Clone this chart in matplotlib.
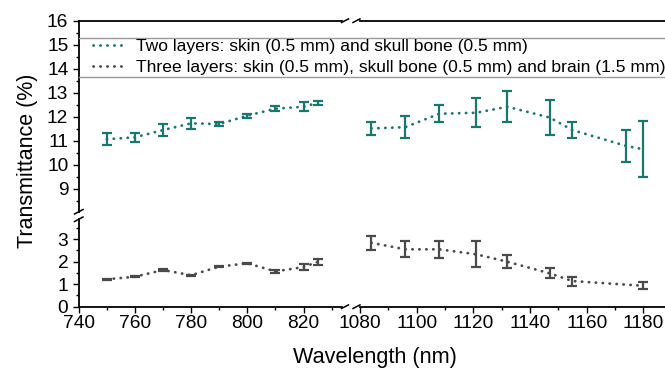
import matplotlib
matplotlib.use("Agg")
import matplotlib.pyplot as plt
from matplotlib.lines import Line2D
from matplotlib.ticker import MultipleLocator

plt.rcParams['font.family'] = ['Liberation Sans', 'DejaVu Sans']

# Wavelength grids (nm)
wl_short_two = [750, 760, 770, 780, 790, 800, 810, 820, 825]
wl_long_two = [1084, 1096, 1108, 1121, 1132, 1147, 1155, 1174, 1180]
wl_short_three = [750, 760, 770, 780, 790, 800, 810, 820, 825]
wl_long_three = [1084, 1096, 1108, 1121, 1132, 1147, 1155, 1180]

# Two layers: skin + skull bone (%)
t2_short = [11.07, 11.15, 11.45, 11.73, 11.70, 12.05, 12.34, 12.42, 12.58]
t2_short_err = [0.26, 0.18, 0.24, 0.22, 0.09, 0.08, 0.11, 0.18, 0.10]
t2_long = [11.52, 11.57, 12.13, 12.17, 12.42, 11.97, 11.45, 10.79, 10.65]
t2_long_err = [0.28, 0.47, 0.35, 0.60, 0.64, 0.74, 0.33, 0.68, 1.16]

# Three layers: skin + skull bone + brain (%)
t3_short = [1.22, 1.33, 1.63, 1.40, 1.78, 1.93, 1.57, 1.76, 1.99]
t3_short_err = [0.03, 0.03, 0.03, 0.03, 0.03, 0.03, 0.05, 0.15, 0.15]
t3_long = [2.84, 2.55, 2.55, 2.33, 2.00, 1.48, 1.14, 0.93]
t3_long_err = [0.31, 0.36, 0.37, 0.57, 0.28, 0.22, 0.20, 0.16]

label_two = "Two layers: skin (0.5 mm) and skull bone (0.5 mm)"
label_three = "Three layers: skin (0.5 mm), skull bone (0.5 mm) and brain (1.5 mm)"

TEAL = "#17786f"
GRAY = "#4a4a4a"

W, H = 665, 370
fig = plt.figure(figsize=(W / 100, H / 100), dpi=100)


def box(x0, x1, ytop, ybot):
    return [x0 / W, 1 - ybot / H, (x1 - x0) / W, (ybot - ytop) / H]


# pixel layout of the four panels
xl0, xl1 = 78.7, 341.7
xr0, xr1 = 360.0, 665.0
yt0, yt1 = 20.7, 212.0
yb0, yb1 = 219.0, 306.7

ax_tl = fig.add_axes(box(xl0, xl1, yt0, yt1))
ax_tr = fig.add_axes(box(xr0, xr1, yt0, yt1))
ax_bl = fig.add_axes(box(xl0, xl1, yb0, yb1))
ax_br = fig.add_axes(box(xr0, xr1, yb0, yb1))

xlim_left = (740, 740 + (xl1 - xl0) / 2.81)
xlim_right = (1080, 1080 + (xr1 - xr0) / 2.833)
ylim_top = (16 - (yt1 - yt0) / 24.04, 16)
ylim_bot = (0, (yb1 - yb0) / 22.5)

line_kw = dict(linestyle=(0, (0.1, 2.4)), dash_capstyle='round', linewidth=2.0)
err_kw = dict(elinewidth=1.6, capsize=3.8, capthick=1.6)

for ax, x, y, e in [(ax_tl, wl_short_two, t2_short, t2_short_err),
                    (ax_tr, wl_long_two, t2_long, t2_long_err)]:
    ax.plot(x, y, color=TEAL, **line_kw)
    ax.errorbar(x, y, yerr=e, fmt='none', ecolor=TEAL, **err_kw)

for ax, x, y, e in [(ax_bl, wl_short_three, t3_short, t3_short_err),
                    (ax_br, wl_long_three, t3_long, t3_long_err)]:
    ax.plot(x, y, color=GRAY, **line_kw)
    ax.errorbar(x, y, yerr=e, fmt='none', ecolor=GRAY, **err_kw)

for ax in (ax_tl, ax_bl):
    ax.set_xlim(*xlim_left)
for ax in (ax_tr, ax_br):
    ax.set_xlim(*xlim_right)
for ax in (ax_tl, ax_tr):
    ax.set_ylim(*ylim_top)
for ax in (ax_bl, ax_br):
    ax.set_ylim(*ylim_bot)

for ax in (ax_tl, ax_tr, ax_bl, ax_br):
    ax.patch.set_alpha(0)
    for s in ax.spines.values():
        s.set_visible(False)
        s.set_linewidth(1.3)
    ax.tick_params(which='both', direction='out', width=1.0, labelsize=13.8,
                   length=4.5, pad=1.5)
    ax.tick_params(which='minor', length=2.5)

# spines
ax_tl.spines['left'].set_visible(True)
ax_tl.spines['top'].set_visible(True)
ax_tr.spines['top'].set_visible(True)
ax_bl.spines['left'].set_visible(True)
ax_bl.spines['bottom'].set_visible(True)
ax_br.spines['bottom'].set_visible(True)

# tick layout
for ax in (ax_tl, ax_tr):
    ax.tick_params(axis='x', which='both', bottom=False, labelbottom=False)
ax_tr.tick_params(axis='y', which='both', left=False, labelleft=False)
ax_br.tick_params(axis='y', which='both', left=False, labelleft=False)

ax_tl.yaxis.set_major_locator(MultipleLocator(1))
ax_tl.yaxis.set_minor_locator(MultipleLocator(0.5))
ax_bl.yaxis.set_major_locator(MultipleLocator(1))
ax_bl.yaxis.set_minor_locator(MultipleLocator(0.5))
ax_tl.tick_params(axis='y', pad=3)
ax_bl.tick_params(axis='y', pad=3)

for ax in (ax_bl, ax_br):
    ax.xaxis.set_major_locator(MultipleLocator(20))
    ax.xaxis.set_minor_locator(MultipleLocator(10))

# axis break marks (figure pixel coordinates)
def seg(x0, y0, x1, y1, color='black', lw=1.1):
    fig.add_artist(Line2D([x0 / W, x1 / W], [1 - y0 / H, 1 - y1 / H],
                          color=color, linewidth=lw,
                          transform=fig.transFigure))

for yy in (yt0, yb1):
    seg(341.5, yy + 1.8, 348.5, yy - 1.8)
    seg(353.0, yy + 1.8, 360.0, yy - 1.8)
seg(74.5, 214.0, 83.0, 209.5)
seg(74.5, 221.5, 83.0, 217.0)

# axis titles
fig.text(27 / W, 1 - 161 / H, "Transmittance (%)", rotation=90,
         ha='center', va='center', fontsize=15.5)
fig.text(375 / W, 1 - 358 / H, "Wavelength (nm)", ha='center',
         va='center', fontsize=15.6)

# legend band: gray rules above and below
seg(xl0, 37.7, W, 37.7, color='#9a9a9a', lw=1.0)
seg(xl0, 77.3, W, 77.3, color='#9a9a9a', lw=1.0)

handles = [Line2D([], [], color=TEAL, **line_kw),
           Line2D([], [], color=GRAY, **line_kw)]
leg = fig.legend(handles, [label_two, label_three], loc='upper left',
                 bbox_to_anchor=(93 / W, 1 - 38.5 / H),
                 fontsize=12.6, frameon=False, borderpad=0,
                 labelspacing=0.36, handlelength=1.75, handletextpad=0.72,
                 borderaxespad=0)

fig.savefig("out.png", dpi=100)
